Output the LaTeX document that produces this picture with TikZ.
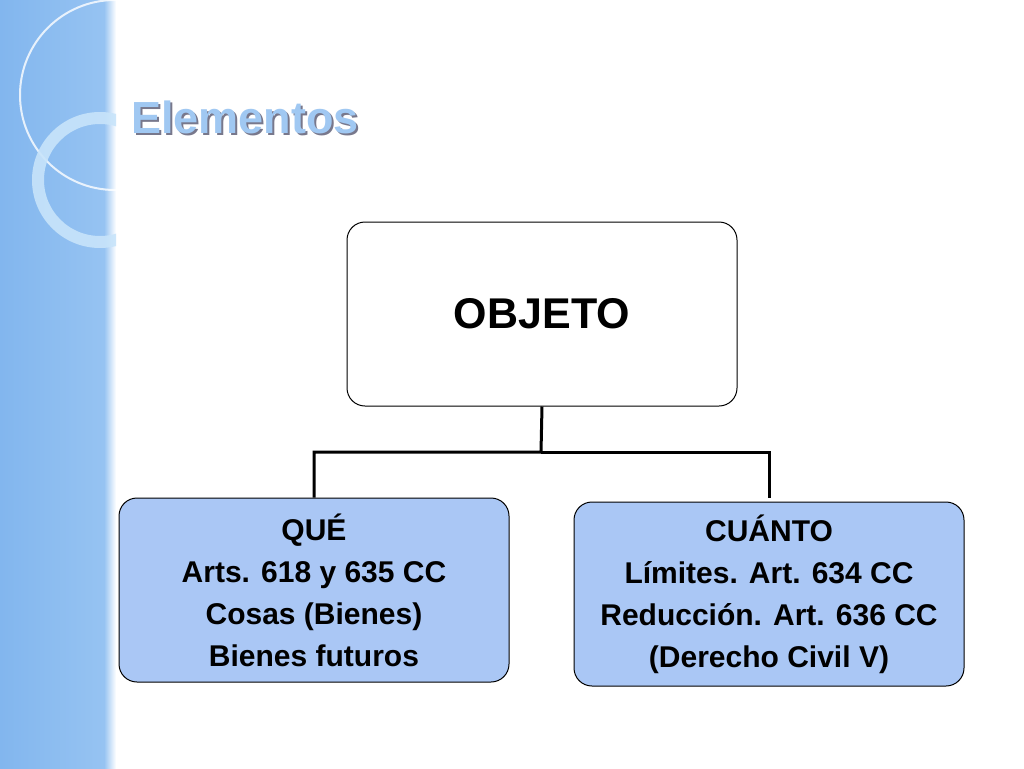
\documentclass[tikz,border=0pt]{standalone}
\usepackage{fontspec}
\setmainfont{Liberation Sans}
\definecolor{stripA}{RGB}{130,182,238}
\definecolor{stripB}{RGB}{150,195,242}
\definecolor{ringc}{RGB}{200,228,250}
\definecolor{shad}{RGB}{120,120,140}
\definecolor{titc}{RGB}{160,200,242}
\definecolor{boxc}{RGB}{170,199,245}
\begin{document}
\begin{tikzpicture}[x=1pt,y=-1pt,
  box/.style={draw=black,rounded corners=18pt,line width=1pt,align=center,font=\bfseries\fontsize{30}{44}\selectfont},
  conn/.style={line width=3pt}]
\useasboundingbox (0,0) rectangle (1024,768);
\fill[white] (0,0) rectangle (1024,768);
\fill[left color=stripA,right color=stripB] (0,0) rectangle (104,768);
\fill[left color=stripB,right color=white] (104,0) rectangle (116,768);
\begin{scope}
\clip (0,0) rectangle (116,768);
\draw[white,line width=2pt,opacity=0.8] (115,95) circle (95);
\draw[draw=ringc,line width=12pt,opacity=0.9] (100,180) circle (62);
\end{scope}
\node[font=\bfseries\fontsize{45}{48}\selectfont,text=shad] at (247,119) {Elementos};
\node[font=\bfseries\fontsize{45}{48}\selectfont,text=titc] (title) at (245,117) {Elementos};
\node[box,fill=white,minimum width=390pt,minimum height=184pt,font=\bfseries\fontsize{43}{46}\selectfont] (obj) at (542,314) {OBJETO};
\node[box,fill=boxc,minimum width=390pt,minimum height=184pt] (que) at (314,590) {QUÉ\\[-2pt]Arts. 618 y 635 CC\\[-2pt]Cosas (Bienes)\\[-2pt]Bienes futuros};
\node[box,fill=boxc,minimum width=390pt,minimum height=184pt] (cua) at (769,594) {CUÁNTO\\[-2pt]Límites. Art. 634 CC\\[-2pt]Reducción. Art. 636 CC\\[-2pt](Derecho Civil V)};
\draw[conn] (obj.south) -- (541,452) -| (que.north);
\draw[conn] (541,452) -| (769,498);
\end{tikzpicture}
\end{document}
